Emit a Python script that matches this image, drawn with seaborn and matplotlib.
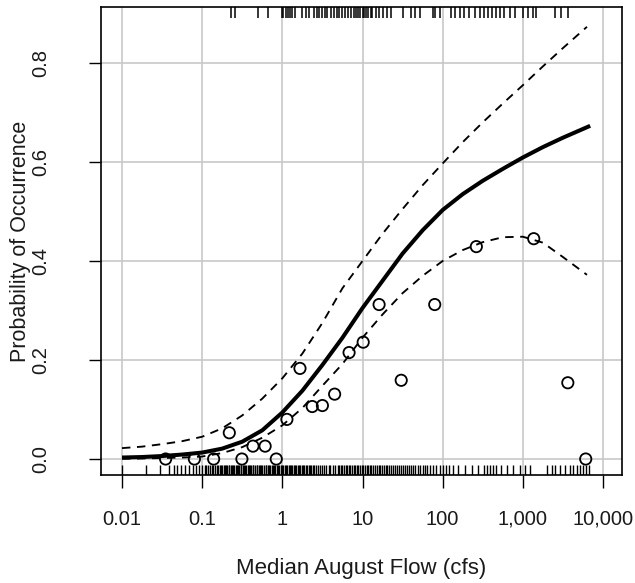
import numpy as np
import pandas as pd
import matplotlib
matplotlib.use("Agg")
import matplotlib.pyplot as plt
import seaborn as sns

# ---------------- data ----------------
# fitted curve (log10 flow -> probability)
fit_log_x = [-2.0, -1.75, -1.5, -1.25, -1.0, -0.75, -0.5, -0.25, 0.0, 0.25, 0.5, 0.75,
             1.0, 1.25, 1.5, 1.75, 2.0, 2.25, 2.5, 2.75, 3.0, 3.25, 3.5, 3.84]
fit_y = [0.003, 0.004, 0.006, 0.009, 0.013, 0.021, 0.035, 0.058, 0.094, 0.138, 0.19, 0.245,
         0.305, 0.36, 0.415, 0.462, 0.503, 0.535, 0.562, 0.586, 0.609, 0.630, 0.649, 0.673]

upper_log_x = [-2.0, -1.75, -1.5, -1.25, -1.0, -0.75, -0.5, -0.25, 0.0, 0.25, 0.5, 0.75,
               1.0, 1.25, 1.5, 1.75, 2.0, 2.25, 2.5, 2.75, 3.0, 3.25, 3.5, 3.8]
upper_y = [0.022, 0.025, 0.030, 0.036, 0.045, 0.062, 0.088, 0.122, 0.163, 0.213, 0.275, 0.345,
           0.400, 0.455, 0.505, 0.553, 0.597, 0.640, 0.680, 0.718, 0.755, 0.793, 0.830, 0.873]

lower_log_x = [-2.0, -1.75, -1.5, -1.25, -1.0, -0.75, -0.5, -0.25, 0.0, 0.25, 0.5, 0.75,
               1.0, 1.25, 1.5, 1.75, 2.0, 2.25, 2.5, 2.75, 3.0, 3.25, 3.5, 3.8]
lower_y = [0.0005, 0.001, 0.002, 0.003, 0.005, 0.012, 0.024, 0.043, 0.068, 0.103, 0.148, 0.192,
           0.245, 0.292, 0.335, 0.370, 0.400, 0.422, 0.438, 0.448, 0.449, 0.437, 0.408, 0.372]

# binned observed proportions
bin_flow = [0.035, 0.08, 0.139, 0.218, 0.313, 0.43, 0.61, 0.84, 1.14, 1.66, 2.36, 3.16,
            4.49, 6.8, 10.2, 16.1, 30.4, 79.6, 263, 1368, 3640, 6090]
bin_prop = [0.0, 0.0, 0.0, 0.053, 0.0, 0.026, 0.026, 0.0, 0.080, 0.183, 0.106, 0.108,
            0.131, 0.215, 0.236, 0.312, 0.159, 0.312, 0.429, 0.445, 0.154, 0.0]

# rug: log10 flow at sites with presence (top) / absence (bottom)
present_log_x = [-0.64, -0.59, -0.30, -0.18, -0.01, 0.01, 0.04, 0.07, 0.10, 0.12, 0.16, 0.25,
                 0.29, 0.33, 0.39, 0.43, 0.46, 0.50, 0.53, 0.56, 0.61, 0.64, 0.68, 0.71, 0.75,
                 0.78, 0.82, 0.86, 0.90, 0.92, 0.95, 0.97, 1.00, 1.02, 1.04, 1.07, 1.10, 1.12,
                 1.17, 1.21, 1.26, 1.31, 1.35, 1.51, 1.61, 1.66, 1.72, 1.88, 1.91, 1.97, 2.10,
                 2.16, 2.22, 2.27, 2.33, 2.40, 2.46, 2.51, 2.57, 2.62, 2.66, 2.71, 2.76, 2.84,
                 2.90, 3.00, 3.07, 3.13, 3.17, 3.40, 3.48, 3.56]

absent_log_x = [-2.0, -1.70, -1.52, -1.41, -1.35, -1.31, -1.26, -1.21, -1.16, -1.12, -1.08,
                -1.04, -1.0, -0.97, -0.95, -0.93, -0.90, -0.88, -0.86, -0.84, -0.82, -0.80,
                -0.78, -0.76, -0.75, -0.73, -0.72, -0.70, -0.69, -0.67, -0.66, -0.64, -0.63,
                -0.61, -0.60, -0.58, -0.57, -0.55, -0.54, -0.52, -0.51, -0.49, -0.48, -0.46,
                -0.45, -0.43, -0.42, -0.40, -0.39, -0.37, -0.36, -0.34, -0.32, -0.31, -0.29,
                -0.28, -0.26, -0.25, -0.23, -0.21, -0.20, -0.18, -0.17, -0.15, -0.13, -0.12,
                -0.10, -0.09, -0.07, -0.05, -0.04, -0.02, -0.01, 0.01, 0.03, 0.04, 0.06, 0.08,
                0.09, 0.11, 0.12, 0.14, 0.16, 0.17, 0.19, 0.21, 0.22, 0.24, 0.26, 0.27, 0.29,
                0.31, 0.33, 0.34, 0.36, 0.38, 0.40, 0.42, 0.45, 0.47, 0.50, 0.52, 0.55, 0.58,
                0.60, 0.63, 0.66, 0.69, 0.71, 0.73, 0.75, 0.77, 0.79, 0.81, 0.83, 0.85, 0.87,
                0.89, 0.91, 0.93, 0.95, 0.97, 0.99, 1.01, 1.03, 1.05, 1.07, 1.09, 1.11, 1.13,
                1.15, 1.18, 1.20, 1.22, 1.24, 1.27, 1.29, 1.31, 1.33, 1.36, 1.38, 1.41, 1.43,
                1.45, 1.48, 1.50, 1.53, 1.55, 1.58, 1.61, 1.63, 1.66, 1.69, 1.72, 1.75, 1.78,
                1.81, 1.84, 1.88, 1.92, 1.97, 2.01, 2.04, 2.08, 2.13, 2.19, 2.28, 2.36, 2.44,
                2.51, 2.55, 2.59, 2.63, 2.67, 2.73, 2.80, 2.88, 2.96, 3.03, 3.09, 3.30, 3.36,
                3.40, 3.46, 3.52, 3.59, 3.63, 3.67, 3.71, 3.75, 3.79, 3.83]

x_ticks = [0.01, 0.1, 1, 10, 100, 1000, 10000]
x_tick_labels = ["0.01", "0.1", "1", "10", "100", "1,000", "10,000"]
y_ticks = [0.0, 0.2, 0.4, 0.6, 0.8]
y_tick_labels = ["0.0", "0.2", "0.4", "0.6", "0.8"]

# ---------------- plot ----------------
sns.set_theme(style="white")
plt.rcParams["font.family"] = ["Liberation Sans", "DejaVu Sans"]

W, H = 635, 583
fig = plt.figure(figsize=(W / 100, H / 100), dpi=100)
ax = fig.add_axes([101 / W, (H - 475) / H, (622 - 101) / W, (475 - 7) / H])
ax.set_xscale("log")

fit = pd.DataFrame({"flow": np.power(10.0, fit_log_x), "p": fit_y})
upp = pd.DataFrame({"flow": np.power(10.0, upper_log_x), "p": upper_y})
low = pd.DataFrame({"flow": np.power(10.0, lower_log_x), "p": lower_y})

dash = (0, (4.5, 3.5))
sns.lineplot(data=upp, x="flow", y="p", ax=ax, color="black", lw=1.35, linestyle=dash)
sns.lineplot(data=low, x="flow", y="p", ax=ax, color="black", lw=1.35, linestyle=dash)
sns.lineplot(data=fit, x="flow", y="p", ax=ax, color="black", lw=2.9,
             solid_capstyle="butt")

pts = pd.DataFrame({"flow": bin_flow, "p": bin_prop})
sns.scatterplot(data=pts, x="flow", y="p", ax=ax, marker="o", s=66,
                facecolors="none", edgecolor="black", linewidth=1.3, zorder=4)

absent = np.power(10.0, absent_log_x)
present = np.power(10.0, present_log_x)
sns.rugplot(x=absent, ax=ax, height=0.021, color="black", lw=1.35, expand_margins=False)
ax.vlines(present, 1 - 0.023, 1, transform=ax.get_xaxis_transform(), color="black", lw=1.1)

ax.set_xlim(10 ** -2.262, 10 ** 4.237)
ax.set_ylim(-0.0323, 0.913)

ax.set_xticks(x_ticks)
ax.set_xticklabels(x_tick_labels)
ax.xaxis.set_minor_locator(matplotlib.ticker.NullLocator())
ax.set_yticks(y_ticks)
ax.set_yticklabels(y_tick_labels, rotation=90, va="center")

ax.grid(True, color="#c8c8c8", lw=1.2)
ax.set_axisbelow(True)
for s in ax.spines.values():
    s.set_color("black")
    s.set_linewidth(1.2)

ax.tick_params(axis="both", direction="out", length=9, width=1.0, color="black",
               labelsize=14.5, labelcolor="#1a1a1a", bottom=True, left=True)
ax.tick_params(axis="x", pad=16)
ax.tick_params(axis="y", pad=27.5)

ax.set_xlabel("Median August Flow (cfs)", fontsize=16, color="#1a1a1a", labelpad=21)
ax.set_ylabel("Probability of Occurrence", fontsize=15.5, color="#1a1a1a", labelpad=0)

fig.savefig("out.png", dpi=100)
